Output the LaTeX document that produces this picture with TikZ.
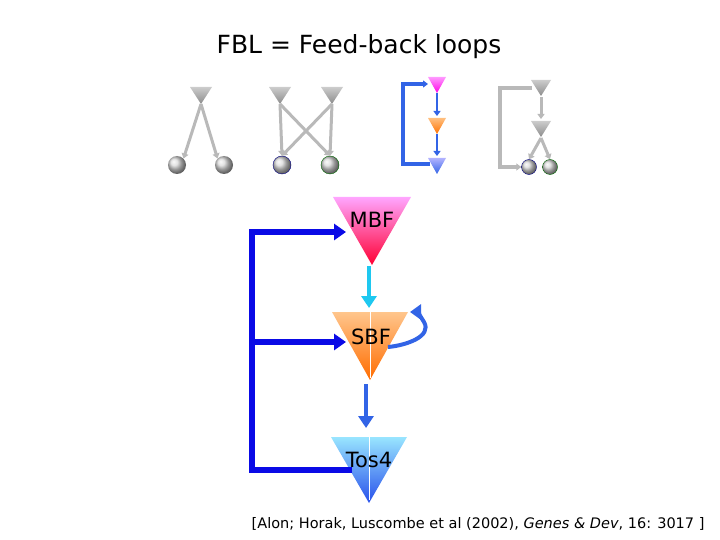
\documentclass[tikz,border=0pt]{standalone}
\usepackage{fontspec}
\setmainfont{DejaVu Sans}
\usetikzlibrary{arrows.meta}
\definecolor{dblue}{RGB}{10,10,230}
\definecolor{mblue}{RGB}{50,100,230}
\definecolor{cyanA}{RGB}{30,200,240}
\definecolor{grayA}{RGB}{185,185,185}
\tikzset{
 fb/.style={draw=dblue,line width=5.5pt,-{Triangle[length=12pt,width=16pt]}},
 gar/.style={draw=grayA,line width=3pt,-{Triangle[length=5pt,width=7pt]}},
 bar/.style={draw=mblue,line width=2.4pt,-{Triangle[length=5pt,width=7pt]}},
 circ/.style={circle,minimum size=#1,inner sep=0pt,ball color=gray!30},
 lbl/.style={font=\fontsize{21}{21}\selectfont,inner sep=0pt}
}
\newcommand{\mytri}[6]{% cx, top y, halfwidth, height, topcol, botcol
 \shade[top color=#5,bottom color=#6] (#1-#3,#2) -- (#1+#3,#2) -- (#1,#2+#4) -- cycle;}
\begin{document}
\begin{tikzpicture}[x=1pt,y=-1pt]
\useasboundingbox (0,0) rectangle (720,540);
\node[font=\fontsize{25}{25}\selectfont] (title) at (359,47) {FBL = Feed-back loops};
% motif 1
\mytri{201}{87}{11}{17}{gray!40}{gray!90}
\coordinate (m1) at (201,104);
\node[circ=18pt] (c1) at (177,165) {};
\node[circ=18pt] (c2) at (224,165) {};
\draw[gar] (m1) -- (c1.north east);
\draw[gar] (m1) -- (c2.north west);
% motif 2
\mytri{280}{87}{11}{17}{gray!40}{gray!90}
\mytri{332}{87}{11}{17}{gray!40}{gray!90}
\coordinate (m2a) at (280,104);
\coordinate (m2b) at (332,104);
\node[circ=18pt,draw=blue!50!black] (c3) at (282,165) {};
\node[circ=18pt,draw=green!40!black] (c4) at (330,165) {};
\draw[gar] (m2a) -- (c3.north);
\draw[gar] (m2a) -- (c4.north);
\draw[gar] (m2b) -- (c3.north);
\draw[gar] (m2b) -- (c4.north);
% motif 3
\mytri{437}{77}{9}{16}{magenta!40}{magenta!90!red}
\mytri{437}{118}{9}{16}{orange!50}{orange!90!red}
\mytri{437}{158}{9}{16}{blue!30}{mblue}
\coordinate (p1) at (437,93);
\coordinate (p2) at (437,116);
\coordinate (p3) at (437,134);
\coordinate (p4) at (437,156);
\coordinate (p5) at (428,84);
\coordinate (p6) at (430,164);
\draw[bar] (p1) -- (p2);
\draw[bar] (p3) -- (p4);
\draw[bar,line width=3.5pt] (p6) -- (403,164) -- (403,84) -- (p5);
% motif 4
\mytri{541}{80}{10}{16}{gray!40}{gray!90}
\mytri{541}{121}{10}{16}{gray!40}{gray!90}
\coordinate (q1) at (541,97);
\coordinate (q2) at (541,119);
\coordinate (q3) at (541,138);
\node[circ=15pt,draw=blue!50!black] (c5) at (529,167) {};
\node[circ=15pt,draw=green!40!black] (c6) at (550,167) {};
\coordinate (q4) at (532,88);
\draw[gar] (q1) -- (q2);
\draw[gar] (q3) -- (c5.north);
\draw[gar] (q3) -- (c6.north);
\draw[gar,line width=3.5pt] (q4) -- (500,88) -- (500,167) -- (c5.west);
% main
\mytri{372}{197}{39}{68}{magenta!35}{red!80!magenta}
\mytri{370}{312}{38}{68}{orange!45}{orange!85!red}
\mytri{369}{437}{38}{66}{blue!25!cyan!40}{mblue!80!blue}
\draw[white,line width=0.6pt] (370,312) -- (370,378);
\draw[white,line width=0.6pt] (369,437) -- (369,500);
\node[lbl] (mbf) at (372,220) {MBF};
\node[lbl] (sbf) at (371,337) {SBF};
\node[lbl] (tos) at (369,460) {Tos4};
\coordinate (a1) at (369,266);
\coordinate (a2) at (369,308);
\coordinate (b1) at (366,384);
\coordinate (b2) at (366,428);
\draw[draw=cyanA,line width=4.5pt,-{Triangle[length=12pt,width=15pt]}] (a1) -- (a2);
\draw[draw=mblue,line width=4.5pt,-{Triangle[length=12pt,width=15pt]}] (b1) -- (b2);
\draw[draw=mblue,line width=4pt,-{Triangle[length=11pt,width=15pt]}] (388,347) to[out=5,in=-60] (424,322) to[out=120,in=0] (410,312);
\coordinate (t1) at (352,470);
\coordinate (t2) at (346,232);
\coordinate (t3) at (346,342);
\draw[fb] (t1) -- (252,470) -- (252,232) -- (t2);
\draw[fb] (252,342) -- (t3);
\node[font=\fontsize{14.5}{14.5}\selectfont,anchor=east] (ref) at (708,524) {[Alon; Horak, Luscombe et al (2002), \textit{Genes \& Dev}, 16: 3017 ]};
\end{tikzpicture}
\end{document}
